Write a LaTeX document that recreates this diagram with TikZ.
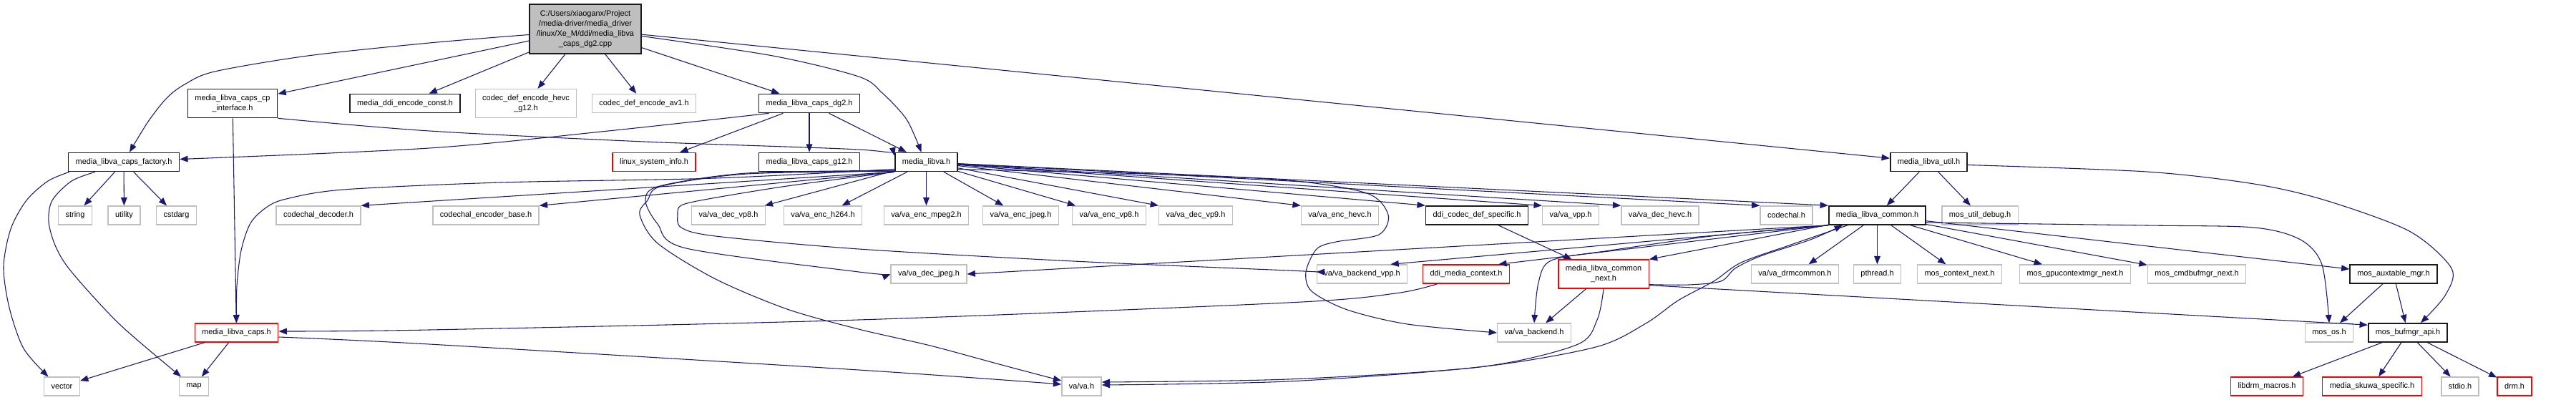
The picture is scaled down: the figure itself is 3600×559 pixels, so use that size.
\documentclass[tikz,border=0pt]{standalone}
\usepackage{fontspec}
\setmainfont{Liberation Sans}
\usetikzlibrary{arrows.meta,calc}
\definecolor{edgec}{HTML}{191970}
\definecolor{boxk}{HTML}{1A1A1A}
\definecolor{boxg}{HTML}{BFBFBF}
\definecolor{boxr}{HTML}{FF0000}
\definecolor{rootfill}{HTML}{BFBFBF}
\tikzset{
 base/.style={rectangle, inner xsep=7.5pt, inner ysep=0pt, align=center, font=\fontsize{8.2}{10.6}\selectfont, fill=white, line width=0.9pt, text=black, minimum height=19.5pt},
 bk/.style={base, draw=boxk, line width=1.25pt},
 gr/.style={base, draw=boxg, line width=1pt},
 rd/.style={base, draw=boxr, line width=1pt},
 two/.style={minimum height=30pt},
 edge/.style={draw=edgec, line width=0.8pt, -{Triangle[length=8.5pt,width=6.5pt]}},
}
\begin{document}
\begin{tikzpicture}[x=0.75pt,y=-0.75pt]
\fill[white] (0,0) rectangle (3600,559);
\useasboundingbox (0,0) rectangle (3600,559);

% Row 0
\node[bk, fill=rootfill, minimum height=51.75pt] (root) at (818,40.5) {C:/Users/xiaoganx/Project\\/media-driver/media\_driver\\/linux/Xe\_M/ddi/media\_libva\\\_caps\_dg2.cpp};
% Row 1
\node[bk, two] (cp) at (325,144.5) {media\_libva\_caps\_cp\\\_interface.h};
\node[bk] (denc) at (566,144.5) {media\_ddi\_encode\_const.h};
\node[gr, two] (hevcg12) at (735,144.5) {codec\_def\_encode\_hevc\\\_g12.h};
\node[gr] (av1) at (900,144.5) {codec\_def\_encode\_av1.h};
\node[bk] (dg2) at (1131,144.5) {media\_libva\_caps\_dg2.h};
% Row 2
\node[bk] (factory) at (173,226.5) {media\_libva\_caps\_factory.h};
\node[rd] (lsi) at (914,226.5) {linux\_system\_info.h};
\node[bk] (g12) at (1131,226.5) {media\_libva\_caps\_g12.h};
\node[bk] (libva) at (1294.5,226.5) {media\_libva.h};
\node[bk] (util) at (2695.5,226.5) {media\_libva\_util.h};
% Row 3
\node[gr] (string) at (105,301) {string};
\node[gr] (utility) at (173.5,301) {utility};
\node[gr] (cstdarg) at (246.5,301) {cstdarg};
\node[gr] (cdec) at (445,301) {codechal\_decoder.h};
\node[gr] (cencb) at (679,301) {codechal\_encoder\_base.h};
\node[gr] (vdvp8) at (1018,301) {va/va\_dec\_vp8.h};
\node[gr] (veh264) at (1150,301) {va/va\_enc\_h264.h};
\node[gr] (vempeg2) at (1294.5,301) {va/va\_enc\_mpeg2.h};
\node[gr] (vejpeg) at (1426.5,301) {va/va\_enc\_jpeg.h};
\node[gr] (vevp8) at (1550,301) {va/va\_enc\_vp8.h};
\node[gr] (vdvp9) at (1671,301) {va/va\_dec\_vp9.h};
\node[gr] (vehevc) at (1872.5,301) {va/va\_enc\_hevc.h};
\node[bk] (ddicodec) at (2064,301) {ddi\_codec\_def\_specific.h};
\node[gr] (vvpp) at (2195,301) {va/va\_vpp.h};
\node[gr] (vdhevc) at (2320,301) {va/va\_dec\_hevc.h};
\node[gr] (codechal) at (2496.5,301) {codechal.h};
\node[bk] (common) at (2623.5,301) {media\_libva\_common.h};
\node[gr] (mudebug) at (2767,301) {mos\_util\_debug.h};
% Row 4
\node[gr] (vdjpeg) at (1298,383) {va/va\_dec\_jpeg.h};
\node[gr] (vbvpp) at (1903.5,383) {va/va\_backend\_vpp.h};
\node[rd] (ddictx) at (2049,383) {ddi\_media\_context.h};
\node[rd, two] (cnext) at (2241,383) {media\_libva\_common\\\_next.h};
\node[gr] (vdrm) at (2508.5,383) {va/va\_drmcommon.h};
\node[gr] (pthread) at (2623.5,383) {pthread.h};
\node[gr] (mctx) at (2738.5,383) {mos\_context\_next.h};
\node[gr] (mgpu) at (2900,383) {mos\_gpucontextmgr\_next.h};
\node[gr] (mcmd) at (3070,383) {mos\_cmdbufmgr\_next.h};
\node[bk] (maux) at (3345,383) {mos\_auxtable\_mgr.h};
% Row 5
\node[rd] (caps) at (330.5,465) {media\_libva\_caps.h};
\node[gr] (vbackend) at (2144,465) {va/va\_backend.h};
\node[gr] (mosos) at (3255,465) {mos\_os.h};
\node[bk] (bufmgr) at (3365,465) {mos\_bufmgr\_api.h};
% Row 6
\node[gr] (vector) at (86.5,540) {vector};
\node[gr] (map) at (271,540) {map};
\node[gr] (vah) at (1511.5,540) {va/va.h};
\node[rd] (libdrm) at (3168,540) {libdrm\_macros.h};
\node[rd] (skuwa) at (3315,540) {media\_skuwa\_specific.h};
\node[gr] (stdio) at (3438,540) {stdio.h};
\node[rd] (drm) at (3514,540) {drm.h};

% ---------- edges ----------
% root
\draw[edge] plot[smooth] coordinates {($(root.west)+(0,8)$) (600,60) (430,78) (300,100) (258,118) (233,137) (207,170) ($(factory.north)+(8,0)$)};
\draw[edge] (root) -- (cp);
\draw[edge] (root) -- (denc);
\draw[edge] (root) -- (hevcg12);
\draw[edge] (root) -- (av1);
\draw[edge] (root) -- (dg2);
\draw[edge] (root) -- (util);
\draw[edge] plot[smooth] coordinates {($(root.east)+(0,10)$) (1080,78) (1200,107) (1233,130) (1267,167) ($(libva.north)+(-7,0)$)};
% cp interface
\draw[edge] (cp) -- (caps);
\draw[edge] plot[smooth] coordinates {(cp.south east) (600,183) (900,198) (1200,209) ($(libva.west)+(0,-9)$)};
% dg2
\draw[edge] plot[smooth] coordinates {($(dg2.south west)+(15,0)$) (850,183) (600,207) ($(factory.east)+(0,-4)$)};
\draw[edge] (dg2) -- (lsi);
\draw[edge] (dg2) -- (g12);
\draw[edge] (dg2) -- (libva);
% media_libva
\draw[edge] plot[smooth] coordinates {($(libva.south west)+(0,-4)$) (1000,249) (700,255) (480,265) (400,278) (372,290) (350,312) (337,350) (331,400) (caps.north)};
\draw[edge] (libva.south west) -- (cdec.north east);
\draw[edge] (libva.south west) -- (cencb.north east);
\draw[edge] plot[smooth] coordinates {($(libva.south west)+(0,-1)$) (1044,243) (925,260) (905,280) (894,300) (919,340) (1000,390) (1100,432) (1200,460) (1300,483) (1400,510) ($(vah.west)+(0,-8)$)};
\draw[edge] plot[smooth] coordinates {($(libva.south west)+(0,-2)$) (1044,242) (922,260) (902,280) (919,313) (959,347) (1200,380) (vdjpeg.west)};
\draw[edge] plot[smooth] coordinates {(libva.south west) (1100,260) (990,278) (952,287) (947,300) (952,318) (1000,330) (1200,348) (1500,365) (1800,378) ($(vbvpp.west)+(0,-3)$)};
\draw[edge] (libva) -- (vdvp8);
\draw[edge] (libva) -- (veh264);
\draw[edge] (libva) -- (vempeg2);
\draw[edge] (libva) -- (vejpeg);
\draw[edge] (libva) -- (vevp8);
\draw[edge] (libva) -- (vdvp9.north west);
\draw[edge] (libva) -- (vehevc.north west);
\draw[edge] (libva) -- (ddicodec.north west);
\draw[edge] (libva) -- (vvpp.north west);
\draw[edge] (libva) -- (vdhevc.north west);
\draw[edge] (libva) -- (codechal.north west);
\draw[edge] (libva) -- (common.north west);
\draw[edge] plot[smooth] coordinates {($(libva.east)+(0,10)$) (1600,243) (1800,252) (1910,270) (1940,300) (1927,328) (1867,338) (1840,348) (1825,380) (1833,407) (1883,433) (1967,453) (vbackend.west)};
% factory
\draw[edge] plot[smooth] coordinates {($(factory.south west)+(2,0)$) (67,253) (37,280) (15,320) (5,373) (13,430) (33,487) ($(vector.north)+(-19,0)$)};
\draw[edge] plot[smooth] coordinates {($(factory.south west)+(38,0)$) (100,253) (73,280) (68,310) (78,345) (100,380) (167,453) ($(map.north)+(-18,0)$)};
\draw[edge] (factory) -- (string);
\draw[edge] (factory) -- (utility);
\draw[edge] (factory) -- (cstdarg);
% media_libva_caps
\draw[edge] (caps) -- (vector);
\draw[edge] (caps) -- (map);
\draw[edge] plot[smooth] coordinates {($(caps.east)+(0,6)$) (600,481) (1200,517) ($(vah.west)+(0,-3)$)};
% media_libva_common
\draw[edge] (common) -- (vdrm);
\draw[edge] (common) -- (pthread);
\draw[edge] (common) -- (mctx);
\draw[edge] (common) -- (mgpu);
\draw[edge] (common) -- (mcmd);
\draw[edge] (common) -- (maux);
\draw[edge] plot[smooth] coordinates {($(common.east)+(0,10)$) (3000,315) (3150,318) (3215,335) (3245,370) (mosos.north)};
\draw[edge] (common.south west) -- (vdjpeg.east);
\draw[edge] (common.south west) -- ($(vbvpp.north east)+(-24,0)$);
\draw[edge] (common.south west) -- ($(ddictx.north east)+(-16,0)$);
\draw[edge] (common) -- (cnext.north east);
\draw[edge] plot[smooth] coordinates {(common.south west) (2400,329) (2250,350) (2168,364) (2150,395) (vbackend.north)};
\draw[edge] plot[smooth] coordinates {($(common.south west)+(27,0)$) (2500,343) (2433,367) (2395,393) (2345,420) (2300,452) (2230,485) (2067,513) (1800,533) ($(vah.east)+(0,-2)$)};
% media_libva_common_next
\draw[edge] plot[smooth] coordinates {($(cnext.south east)+(0,-6)$) (2360,398) (2405,393) (2425,375) (2460,358) (2530,335) ($(common.south west)+(20,0)$)};
\draw[edge] ($(cnext.south east)+(0,-5)$) -- ($(bufmgr.north west)+(0,3)$);
\draw[edge] plot[smooth] coordinates {(cnext.south) (2232,447) (2203,482) (2067,513) (1800,530) ($(vah.east)+(0,-6)$)};
\draw[edge] (cnext) -- (vbackend);
% ddi
\draw[edge] (ddicodec) -- (cnext);
\draw[edge] plot[smooth] coordinates {($(ddictx.south)+(-40,0)$) (1950,410) (1800,423) (1200,447) (600,461) ($(caps.east)+(0,-2)$)};
% util
\draw[edge] (util) -- (common);
\draw[edge] (util) -- (mudebug);
\draw[edge] plot[smooth] coordinates {($(util.east)+(0,4)$) (3000,240) (3150,257) (3250,280) (3367,323) (3426,375) (3417,413) ($(bufmgr.north)+(18,0)$)};
% aux / bufmgr
\draw[edge] (maux) -- (mosos);
\draw[edge] (maux) -- (bufmgr);
\draw[edge] (bufmgr) -- (libdrm);
\draw[edge] (bufmgr) -- (skuwa);
\draw[edge] (bufmgr) -- (stdio);
\draw[edge] (bufmgr) -- (drm);
\end{tikzpicture}
\end{document}
